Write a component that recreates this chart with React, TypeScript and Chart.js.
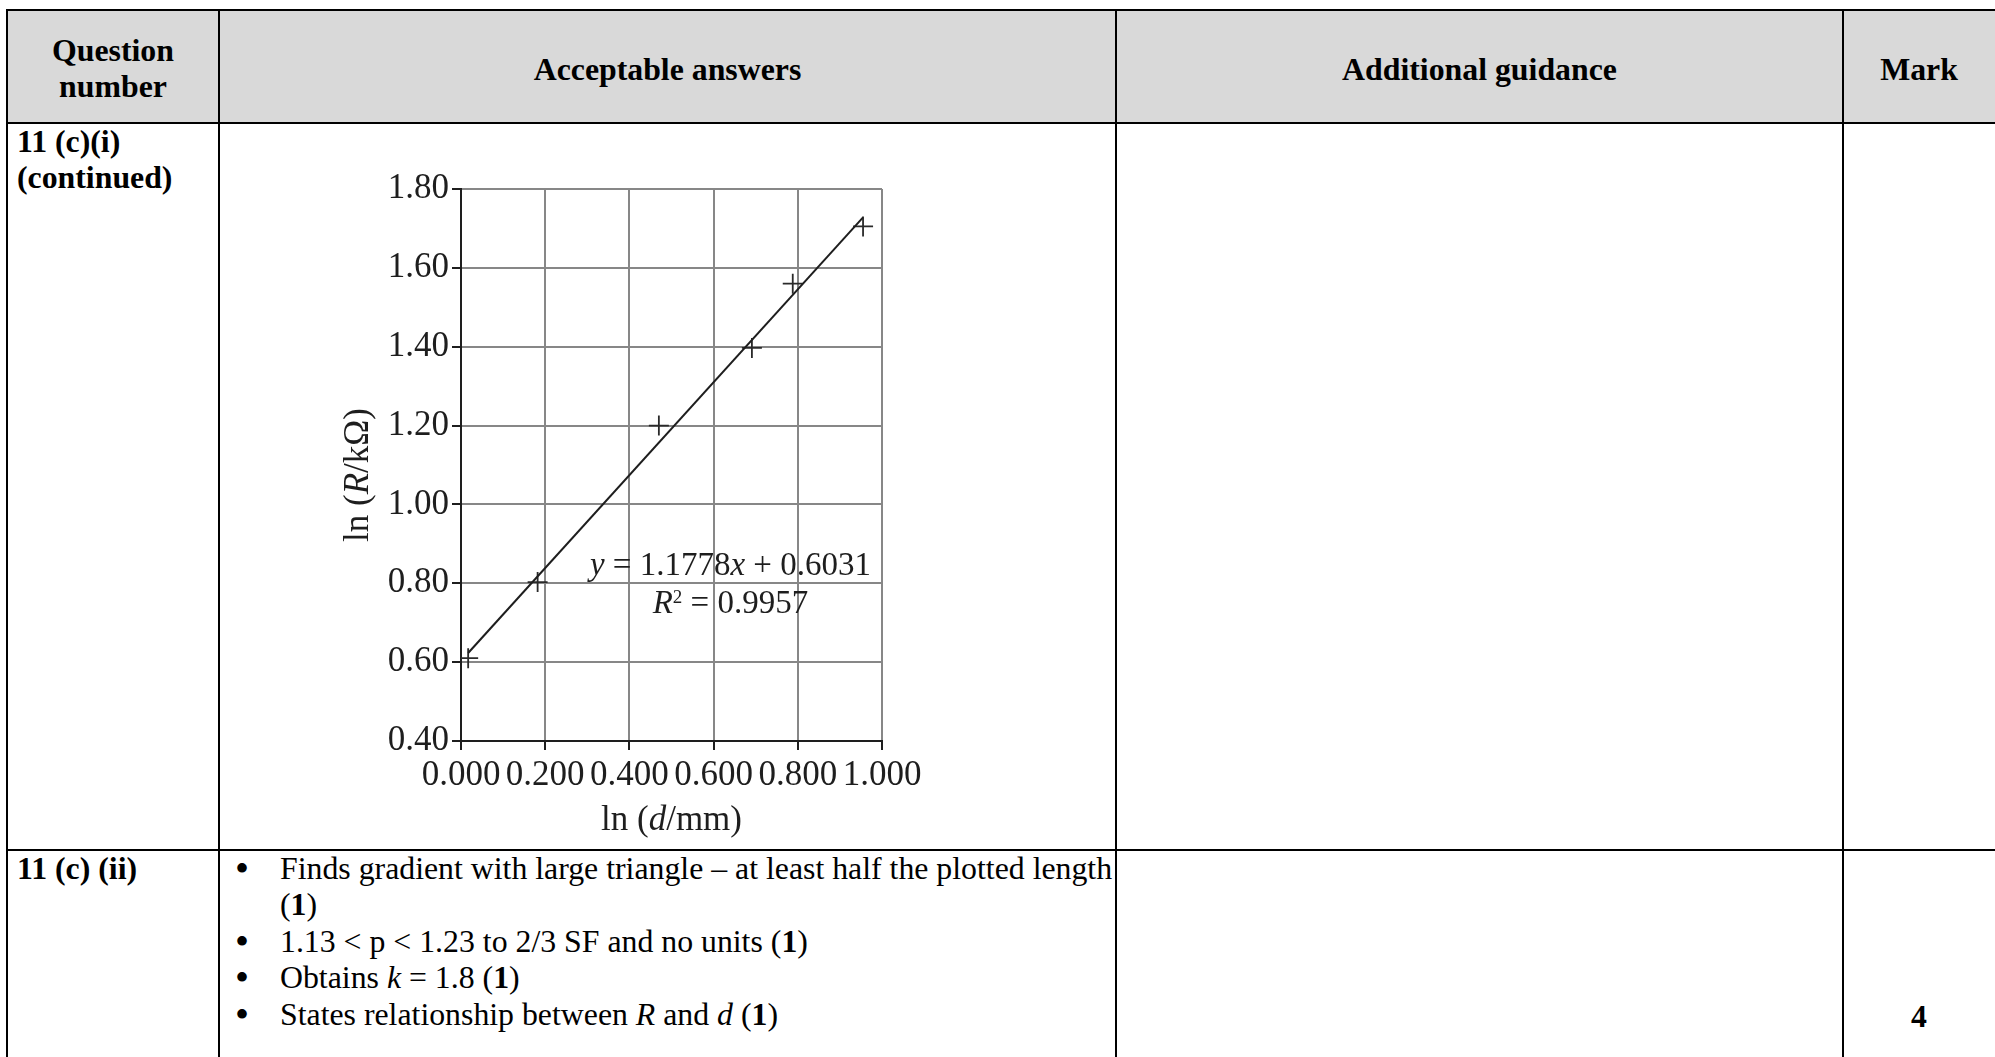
import React, { useEffect, useRef } from "react";
import { Chart, registerables } from "chart.js";

Chart.register(...registerables);

// ---------- data ----------
const lnD = [0.017, 0.182, 0.47, 0.691, 0.788, 0.955];
const lnR = [0.61, 0.803, 1.2, 1.397, 1.56, 1.705];
const fitSlope = 1.1778;
const fitIntercept = 0.6031;
const rSquared = 0.9957;
const xTickValues = [0, 0.2, 0.4, 0.6, 0.8, 1.0];
const yTickValues = [0.4, 0.6, 0.8, 1.0, 1.2, 1.4, 1.6, 1.8];

// ---------- styling ----------
const SERIF = "'Liberation Serif', 'Times New Roman', Times, serif";
const GRID = "#878787";
const INK = "#1e1e1e";

// annotation anchors (data coordinates)
const EQ_CENTER_X = 0.64;
const EQ_LINE1_Y = 0.821;
const EQ_LINE2_Y = 0.725;

type Run = { text: string; font: string; dy?: number };

function drawRuns(ctx: CanvasRenderingContext2D, runs: Run[], cx: number, cy: number) {
  const widths = runs.map((r) => {
    ctx.font = r.font;
    return ctx.measureText(r.text).width;
  });
  const total = widths.reduce((a, b) => a + b, 0);
  let x = cx - total / 2;
  runs.forEach((r, i) => {
    ctx.font = r.font;
    ctx.fillText(r.text, x, cy + (r.dy || 0));
    x += widths[i];
  });
}

const textPlugin = {
  id: "textPlugin",
  afterDraw(chart: any) {
    const { ctx, chartArea, scales } = chart;
    const xs = scales.x;
    const ys = scales.y;
    ctx.save();
    ctx.fillStyle = INK;
    ctx.textAlign = "left";

    // regression equation
    const reg = `33px ${SERIF}`;
    const ita = `italic 33px ${SERIF}`;
    const cx = xs.getPixelForValue(EQ_CENTER_X);
    ctx.textBaseline = "alphabetic";
    drawRuns(
      ctx,
      [
        { text: "y", font: ita },
        { text: ` = ${fitSlope.toFixed(4)}`, font: reg },
        { text: "x", font: ita },
        { text: ` + ${fitIntercept.toFixed(4)}`, font: reg },
      ],
      cx,
      ys.getPixelForValue(EQ_LINE1_Y)
    );
    drawRuns(
      ctx,
      [
        { text: "R", font: ita },
        { text: "2", font: `19px ${SERIF}`, dy: -10 },
        { text: ` = ${rSquared.toFixed(4)}`, font: reg },
      ],
      cx,
      ys.getPixelForValue(EQ_LINE2_Y)
    );

    // axis titles
    const treg = `35px ${SERIF}`;
    const tita = `italic 35px ${SERIF}`;
    ctx.textBaseline = "middle";
    drawRuns(
      ctx,
      [
        { text: "ln (", font: treg },
        { text: "d", font: tita },
        { text: "/mm)", font: treg },
      ],
      (chartArea.left + chartArea.right) / 2,
      chartArea.bottom + 80
    );
    ctx.translate(chartArea.left - 102, (chartArea.top + chartArea.bottom) / 2 + 10);
    ctx.rotate(-Math.PI / 2);
    drawRuns(
      ctx,
      [
        { text: "ln (", font: treg },
        { text: "R", font: tita },
        { text: "/kΩ)", font: treg },
      ],
      0,
      0
    );
    ctx.restore();
  },
};

function LnChart() {
  const ref = useRef<HTMLCanvasElement>(null);
  useEffect(() => {
    if (!ref.current) return;
    const xMin = Math.min(...lnD);
    const xMax = Math.max(...lnD);
    const chart = new Chart(ref.current, {
      type: "scatter",
      data: {
        datasets: [
          {
            label: "fit",
            data: [
              { x: xMin, y: fitSlope * xMin + fitIntercept },
              { x: xMax, y: fitSlope * xMax + fitIntercept },
            ],
            showLine: true,
            borderColor: INK,
            borderWidth: 2,
            pointRadius: 0,
            fill: false,
          } as any,
          {
            label: "data",
            data: lnD.map((x, i) => ({ x, y: lnR[i] })),
            pointStyle: "cross",
            pointRadius: 10,
            pointBorderWidth: 1.8,
            borderColor: "#2a2a2a",
            backgroundColor: "rgba(0,0,0,0)",
            showLine: false,
          } as any,
        ],
      },
      options: {
        animation: false,
        responsive: false,
        events: [],
        layout: { padding: { top: 49, right: 58, left: 0, bottom: 0 } },
        plugins: {
          legend: { display: false },
          tooltip: { enabled: false },
          title: { display: false },
        },
        scales: {
          x: {
            type: "linear",
            min: 0,
            max: 1,
            afterBuildTicks: (s: any) => {
              s.ticks = xTickValues.map((v) => ({ value: v }));
            },
            afterFit: (s: any) => {
              s.height = 108;
            },
            ticks: {
              autoSkip: false,
              maxRotation: 0,
              minRotation: 0,
              padding: 5,
              color: INK,
              font: { family: SERIF, size: 35, lineHeight: 1.2 },
              callback: (v: any) => Number(v).toFixed(3),
            },
            grid: { color: GRID, lineWidth: 2, tickLength: 9, tickColor: INK, tickWidth: 2 },
            border: { display: true, color: INK, width: 2 },
          },
          y: {
            type: "linear",
            min: 0.4,
            max: 1.8,
            afterBuildTicks: (s: any) => {
              s.ticks = yTickValues.map((v) => ({ value: v }));
            },
            afterFit: (s: any) => {
              s.width = 161;
            },
            ticks: {
              autoSkip: false,
              padding: 3,
              color: INK,
              font: { family: SERIF, size: 35, lineHeight: 1.2 },
              callback: (v: any) => Number(v).toFixed(2),
            },
            grid: { color: GRID, lineWidth: 2, tickLength: 9, tickColor: INK, tickWidth: 2 },
            border: { display: true, color: INK, width: 2 },
          },
        },
      } as any,
      plugins: [textPlugin],
    });
    return () => chart.destroy();
  }, []);
  return (
    <canvas
      ref={ref}
      width={640}
      height={709}
      style={{ position: "absolute", left: 300, top: 140, width: 640, height: 709 }}
    />
  );
}

// ---------- table helpers ----------
const FS = 31.8;
const LH = 36;

function Line({ x, y, w, h }: { x: number; y: number; w: number; h: number }) {
  return <div style={{ position: "absolute", left: x, top: y, width: w, height: h, background: "#000" }} />;
}

function Txt({
  x,
  cy,
  children,
  center,
  bold,
  size,
}: {
  x: number;
  cy: number;
  children: React.ReactNode;
  center?: boolean;
  bold?: boolean;
  size?: number;
}) {
  const style: React.CSSProperties = {
    position: "absolute",
    top: cy - LH / 2,
    height: LH,
    lineHeight: `${LH}px`,
    fontSize: size || FS,
    fontFamily: SERIF,
    fontWeight: bold ? "bold" : "normal",
    whiteSpace: "nowrap",
    color: "#000",
  };
  if (center) {
    style.left = x - 400;
    style.width = 800;
    style.textAlign = "center";
  } else {
    style.left = x;
  }
  return <div style={style}>{children}</div>;
}

const B = ({ children }: { children: React.ReactNode }) => <b>{children}</b>;
const I = ({ children }: { children: React.ReactNode }) => <i>{children}</i>;

// column / row geometry
const COL = [7, 219, 1116, 1843];
const ROW_TOP = 10;
const HEAD_BOTTOM = 123;
const ROW1_BOTTOM = 850;
const BULLET_X = 235;
const TEXT_X = 280;
const ROW2_LINES = [868.5, 905, 941.5, 978, 1014.5];

export default function App() {
  return (
    <div
      style={{
        position: "absolute",
        left: 0,
        top: 0,
        width: 1995,
        height: 1057,
        overflow: "hidden",
        background: "#fff",
        fontFamily: SERIF,
      }}
    >
      {/* header background */}
      <div
        style={{
          position: "absolute",
          left: COL[0],
          top: ROW_TOP,
          width: 1995 - COL[0],
          height: HEAD_BOTTOM - ROW_TOP,
          background: "#d9d9d9",
        }}
      />

      <LnChart />

      {/* horizontal rules */}
      <Line x={COL[0] - 1} y={ROW_TOP - 1} w={2000} h={2} />
      <Line x={COL[0] - 1} y={HEAD_BOTTOM - 1} w={2000} h={2} />
      <Line x={COL[0] - 1} y={ROW1_BOTTOM - 1} w={2000} h={2} />
      {/* vertical rules */}
      {COL.map((c) => (
        <Line key={c} x={c - 1} y={ROW_TOP - 1} w={2} h={1100} />
      ))}

      {/* header text */}
      <Txt x={(COL[0] + COL[1]) / 2} cy={51} center bold>
        Question
      </Txt>
      <Txt x={(COL[0] + COL[1]) / 2} cy={87} center bold>
        number
      </Txt>
      <Txt x={(COL[1] + COL[2]) / 2} cy={70} center bold>
        Acceptable answers
      </Txt>
      <Txt x={(COL[2] + COL[3]) / 2} cy={70} center bold>
        Additional guidance
      </Txt>
      <Txt x={(COL[3] + 1995) / 2} cy={70} center bold>
        Mark
      </Txt>

      {/* row 1 */}
      <Txt x={17} cy={142} bold>
        11 (c)(i)
      </Txt>
      <Txt x={17} cy={178} bold>
        (continued)
      </Txt>

      {/* row 2 */}
      <Txt x={17} cy={ROW2_LINES[0]} bold>
        11 (c) (ii)
      </Txt>
      {[0, 2, 3, 4].map((i) => (
        <Txt key={i} x={BULLET_X} cy={ROW2_LINES[i]} size={40}>
          •
        </Txt>
      ))}
      <Txt x={TEXT_X} cy={ROW2_LINES[0]}>
        Finds gradient with large triangle – at least half the plotted length
      </Txt>
      <Txt x={TEXT_X} cy={ROW2_LINES[1]}>
        (<B>1</B>)
      </Txt>
      <Txt x={TEXT_X} cy={ROW2_LINES[2]}>
        1.13 &lt; p &lt; 1.23 to 2/3 SF and no units (<B>1</B>)
      </Txt>
      <Txt x={TEXT_X} cy={ROW2_LINES[3]}>
        Obtains <I>k</I> = 1.8 (<B>1</B>)
      </Txt>
      <Txt x={TEXT_X} cy={ROW2_LINES[4]}>
        States relationship between <I>R</I> and <I>d</I> (<B>1</B>)
      </Txt>
      <Txt x={(COL[3] + 1995) / 2} cy={1017} center bold>
        4
      </Txt>
    </div>
  );
}
